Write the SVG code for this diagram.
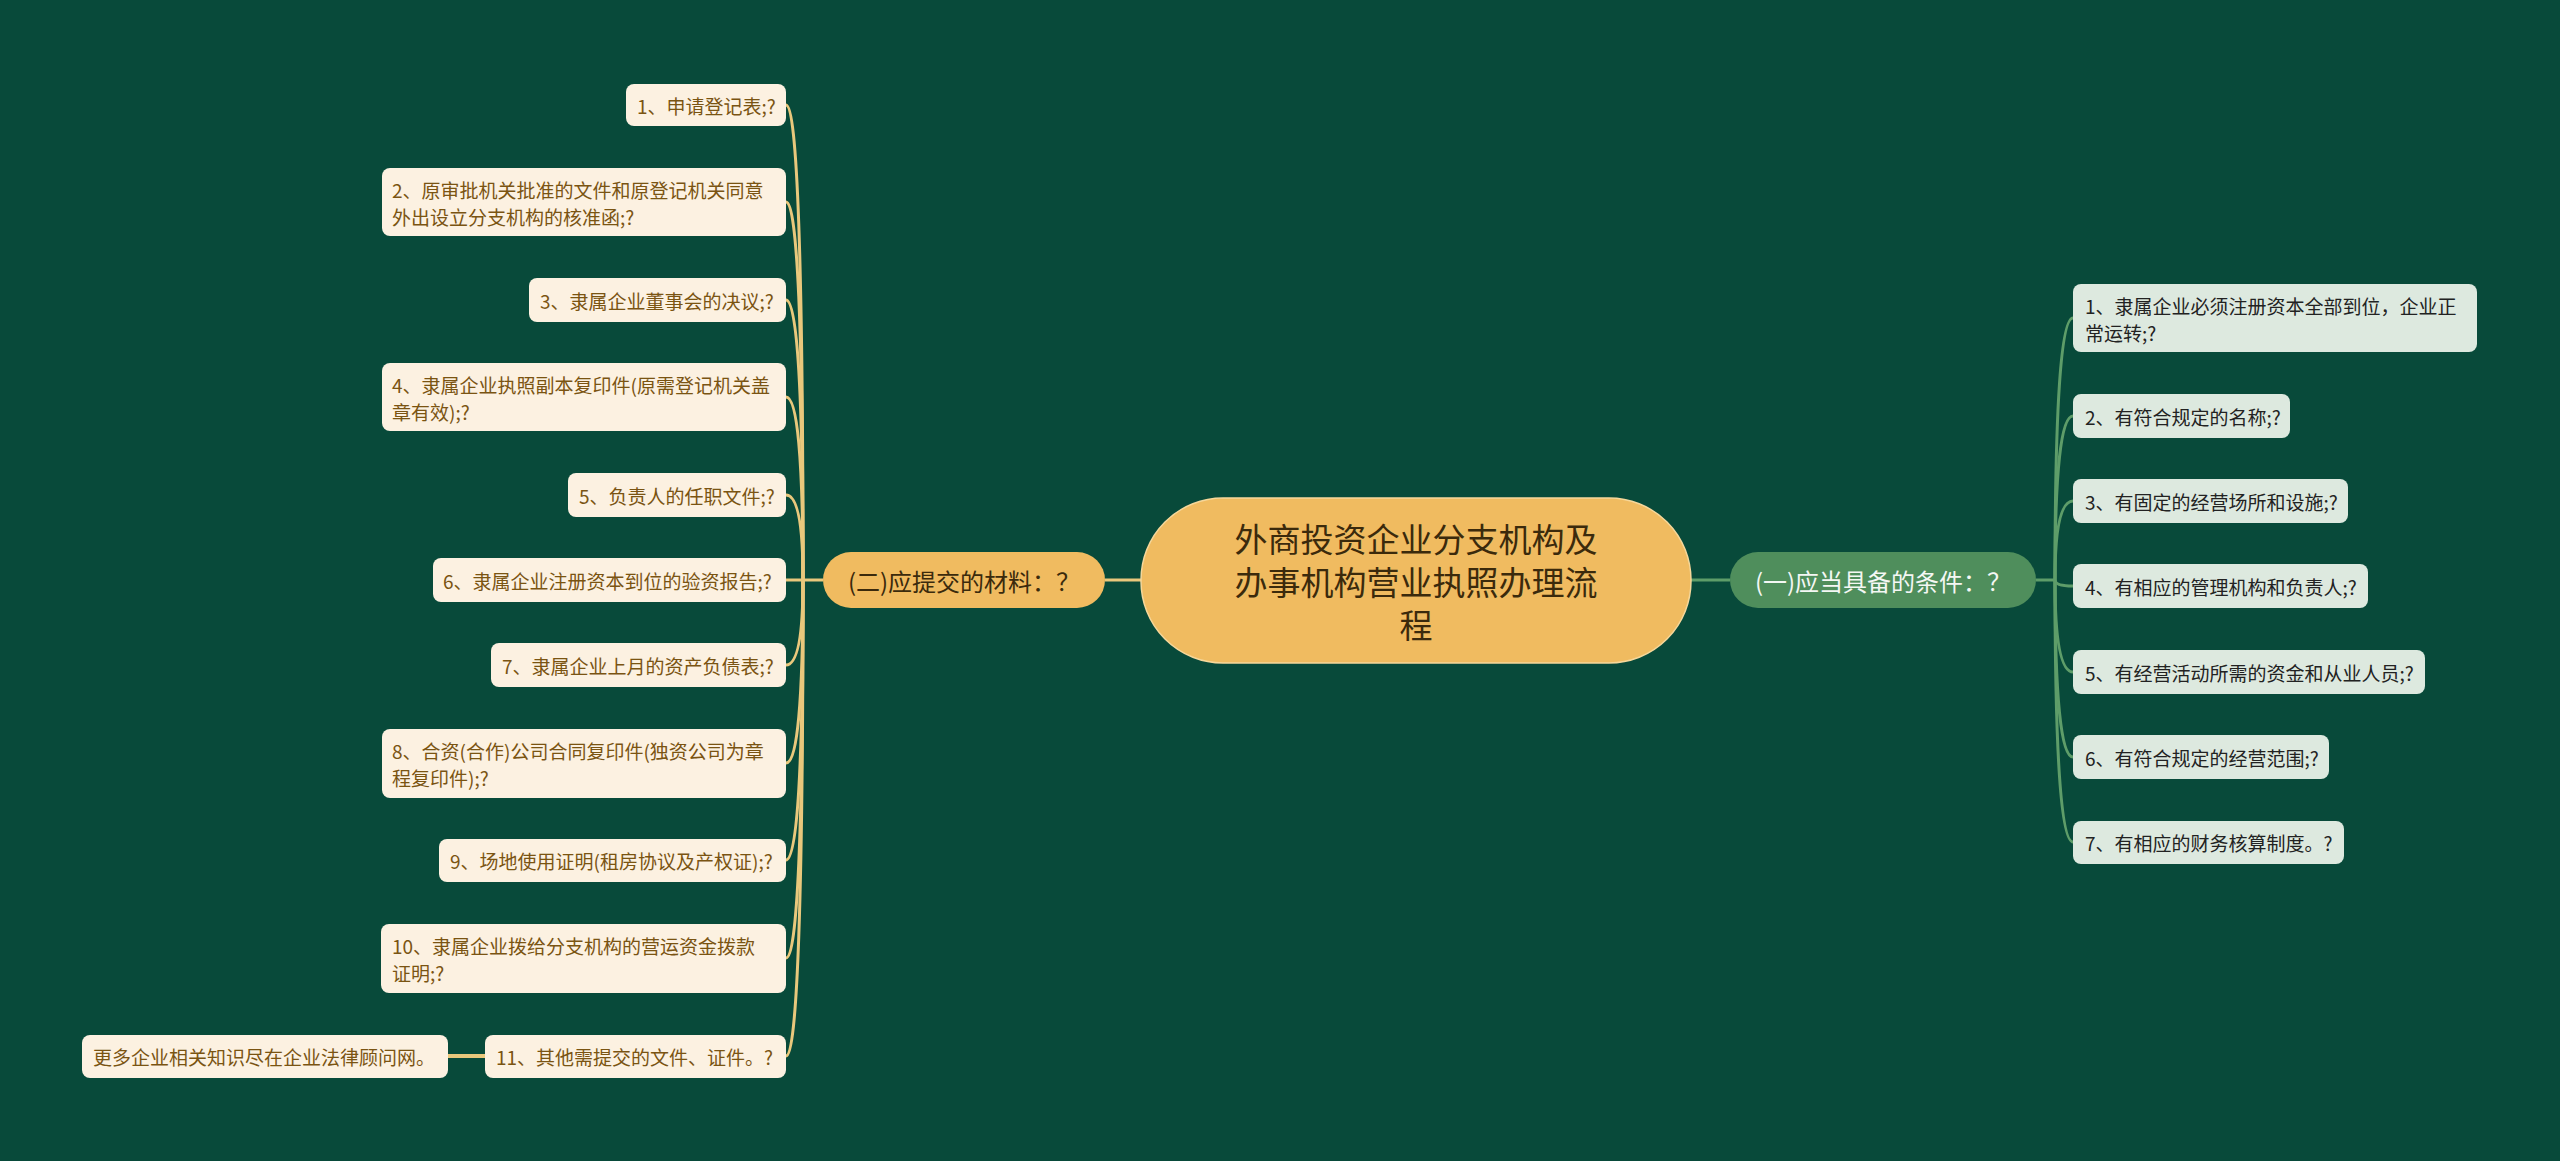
<svg xmlns="http://www.w3.org/2000/svg" width="2560" height="1161" viewBox="0 0 2560 1161">
<style>
text{font-family:"Noto Sans CJK SC","Noto Sans",sans-serif;dominant-baseline:central}
.lc{fill:none;stroke:#e9c87c;stroke-width:3}
.rc{fill:none;stroke:#5e9d69;stroke-width:3}
.ll{fill:#fcf1e1}
.rl{fill:#dde9df}
.lt{font-size:19px;fill:#7a5412}
.rt{font-size:19px;fill:#222}
</style>
<rect width="2560" height="1161" fill="#084a3a"/>
<g id="connectors">
<path class="lc" d="M1141 580H1105"/>
<path class="rc" d="M1691 580H1730"/>
<path class="lc" d="M823 580H803"/>
<path class="lc" d="M803 580Q803 105 786 105"/>
<path class="lc" d="M803 580Q803 202 786 202"/>
<path class="lc" d="M803 580Q803 300 786 300"/>
<path class="lc" d="M803 580Q803 397 786 397"/>
<path class="lc" d="M803 580Q803 495 786 495"/>
<path class="lc" d="M803 580H786"/>
<path class="lc" d="M803 580Q803 665 786 665"/>
<path class="lc" d="M803 580Q803 763 786 763"/>
<path class="lc" d="M803 580Q803 860 786 860"/>
<path class="lc" d="M803 580Q803 958 786 958"/>
<path class="lc" d="M803 580Q803 1056 786 1056"/>
<path class="lc" d="M485 1056H448" style="stroke-width:4"/>
<path class="rc" d="M2036 580H2055"/>
<path class="rc" d="M2055 580Q2055 318 2073 318"/>
<path class="rc" d="M2055 580Q2055 416 2073 416"/>
<path class="rc" d="M2055 580Q2055 501 2073 501"/>
<path class="rc" d="M2055 580Q2055 586 2073 586"/>
<path class="rc" d="M2055 580Q2055 672 2073 672"/>
<path class="rc" d="M2055 580Q2055 757 2073 757"/>
<path class="rc" d="M2055 580Q2055 842 2073 842"/>
</g>
<g id="root">
<rect x="1141" y="498" width="550" height="165" rx="82" fill="#f0bb60" stroke="#f6d79a" stroke-width="1.5"/>
<text font-size="33" fill="#3b2a0c" text-anchor="middle"><tspan x="1416" y="538">外商投资企业分支机构及</tspan><tspan x="1416" y="581">办事机构营业执照办理流</tspan><tspan x="1416" y="624">程</tspan></text>
</g>
<g id="branch-left">
<rect x="823" y="552" width="282" height="56" rx="28" fill="#f0bb60"/>
<text x="964" y="580" font-size="24" fill="#3b2a0c" text-anchor="middle">(二)应提交的材料：？</text>
</g>
<g id="branch-right">
<rect x="1730" y="552" width="306" height="56" rx="28" fill="#4f8e5c"/>
<text x="1883" y="580" font-size="24" fill="#f4f7f4" text-anchor="middle">(一)应当具备的条件：？</text>
</g>
<g id="l1"><rect class="ll" x="626" y="84" width="160" height="42" rx="8"/><text class="lt" x="637" y="105">1、申请登记表;?</text></g>
<g id="l2"><rect class="ll" x="382" y="168" width="404" height="68" rx="8"/><text class="lt"><tspan x="392" y="189">2、原审批机关批准的文件和原登记机关同意</tspan><tspan x="392" y="216">外出设立分支机构的核准函;?</tspan></text></g>
<g id="l3"><rect class="ll" x="529" y="278" width="257" height="44" rx="8"/><text class="lt" x="540" y="300">3、隶属企业董事会的决议;?</text></g>
<g id="l4"><rect class="ll" x="382" y="363" width="404" height="68" rx="8"/><text class="lt"><tspan x="392" y="384">4、隶属企业执照副本复印件(原需登记机关盖</tspan><tspan x="392" y="411">章有效);?</tspan></text></g>
<g id="l5"><rect class="ll" x="568" y="473" width="218" height="44" rx="8"/><text class="lt" x="579" y="495">5、负责人的任职文件;?</text></g>
<g id="l6"><rect class="ll" x="433" y="558" width="353" height="44" rx="8"/><text class="lt" x="443" y="580">6、隶属企业注册资本到位的验资报告;?</text></g>
<g id="l7"><rect class="ll" x="491" y="643" width="295" height="44" rx="8"/><text class="lt" x="502" y="665">7、隶属企业上月的资产负债表;?</text></g>
<g id="l8"><rect class="ll" x="382" y="729" width="404" height="69" rx="8"/><text class="lt"><tspan x="392" y="750">8、合资(合作)公司合同复印件(独资公司为章</tspan><tspan x="392" y="777">程复印件);?</tspan></text></g>
<g id="l9"><rect class="ll" x="439" y="839" width="347" height="43" rx="8"/><text class="lt" x="450" y="860">9、场地使用证明(租房协议及产权证);?</text></g>
<g id="l10"><rect class="ll" x="381" y="924" width="405" height="69" rx="8"/><text class="lt"><tspan x="392" y="945">10、隶属企业拨给分支机构的营运资金拨款</tspan><tspan x="392" y="972">证明;?</tspan></text></g>
<g id="l11"><rect class="ll" x="485" y="1035" width="301" height="43" rx="8"/><text class="lt" x="496" y="1056">11、其他需提交的文件、证件。?</text></g>
<g id="l11-1"><rect class="ll" x="82" y="1035" width="366" height="43" rx="8"/><text class="lt" x="93" y="1056">更多企业相关知识尽在企业法律顾问网。</text></g>
<g id="r1"><rect class="rl" x="2073" y="284" width="404" height="68" rx="8"/><text class="rt"><tspan x="2085" y="305">1、隶属企业必须注册资本全部到位，企业正</tspan><tspan x="2085" y="332">常运转;?</tspan></text></g>
<g id="r2"><rect class="rl" x="2073" y="394" width="217" height="44" rx="8"/><text class="rt" x="2085" y="416">2、有符合规定的名称;?</text></g>
<g id="r3"><rect class="rl" x="2073" y="479" width="275" height="44" rx="8"/><text class="rt" x="2085" y="501">3、有固定的经营场所和设施;?</text></g>
<g id="r4"><rect class="rl" x="2073" y="564" width="295" height="44" rx="8"/><text class="rt" x="2085" y="586">4、有相应的管理机构和负责人;?</text></g>
<g id="r5"><rect class="rl" x="2073" y="650" width="352" height="44" rx="8"/><text class="rt" x="2085" y="672">5、有经营活动所需的资金和从业人员;?</text></g>
<g id="r6"><rect class="rl" x="2073" y="735" width="256" height="44" rx="8"/><text class="rt" x="2085" y="757">6、有符合规定的经营范围;?</text></g>
<g id="r7"><rect class="rl" x="2073" y="821" width="271" height="43" rx="8"/><text class="rt" x="2085" y="842">7、有相应的财务核算制度。?</text></g>
</svg>
